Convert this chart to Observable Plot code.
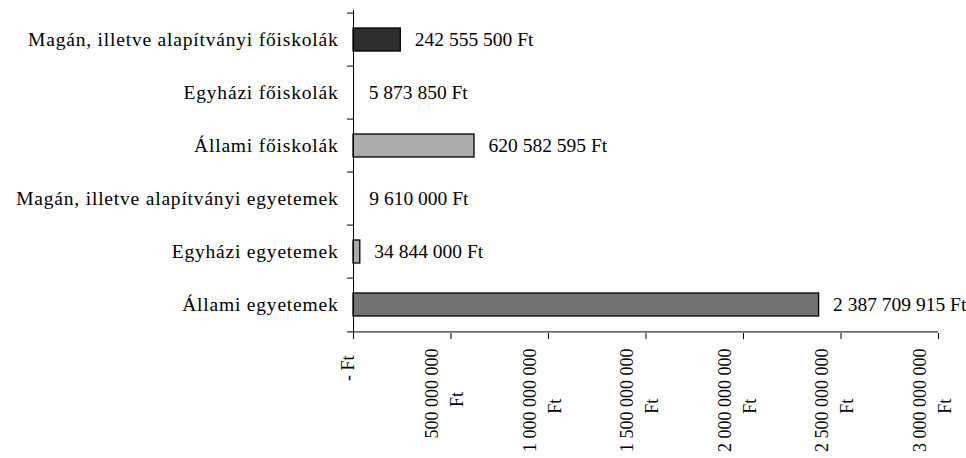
<!DOCTYPE html>
<html>
<head>
<meta charset="utf-8">
<script src="https://cdn.jsdelivr.net/npm/d3@7"></script>
<script src="https://cdn.jsdelivr.net/npm/@observablehq/plot@0.6"></script>
<style>
  body { margin: 0; background: #fff; }
  #chart svg g[aria-label="y-axis tick label"] text { letter-spacing: 0.8px; }
</style>
</head>
<body>
<div id="chart"></div>
<script>
// ---- data ----
const categories = [
  "Magán, illetve alapítványi főiskolák",
  "Egyházi főiskolák",
  "Állami főiskolák",
  "Magán, illetve alapítványi egyetemek",
  "Egyházi egyetemek",
  "Állami egyetemek"
];
const amounts = [242555500, 5873850, 620582595, 9610000, 34844000, 2387709915];
const xTicks = [0, 500000000, 1000000000, 1500000000, 2000000000, 2500000000, 3000000000];
const xTickNumbers = ["-", "500 000 000", "1 000 000 000", "1 500 000 000", "2 000 000 000", "2 500 000 000", "3 000 000 000"];
const currency = "Ft";
const barColors = ["#2e2e2e", "#ffffff", "#ababab", "#ffffff", "#ababab", "#737373"];
const barStrokes = ["black", "none", "black", "none", "black", "black"];

// ---- layout / style ----
const FONT = "Liberation Serif";
const FS = 19.5;
const TFS = 18;
const W = 966, H = 458;
const mTop = 10, mBottom = 125, mLeft = 353, mRight = 28;
const step = (H - mTop - mBottom) / categories.length;

const huf = d3.formatLocale({thousands: " ", grouping: [3], decimal: ",", currency: ["", ""]}).format(",d");
const data = categories.map((c, i) => ({category: c, amount: amounts[i], stroke: barStrokes[i], label: `${huf(amounts[i])} ${currency}`}));

const ctx = document.createElement("canvas").getContext("2d");
ctx.font = `${TFS}px "${FONT}"`;
const tw = s => ctx.measureText(s).width;

const tickLabelMarks = xTicks.flatMap((v, i) => {
  const num = xTickNumbers[i];
  if (num === "-") {
    const s = `${num} ${currency}`;
    return [Plot.text([v], {x: d => d, frameAnchor: "bottom", text: () => s, rotate: -90,
      textAnchor: "middle", dy: 14 + tw(s) / 2 + 8, fontSize: TFS})];
  }
  return [
    Plot.text([v], {x: d => d, frameAnchor: "bottom", text: () => num, rotate: -90,
      textAnchor: "end", dy: 15, dx: -13, fontSize: TFS}),
    Plot.text([v], {x: d => d, frameAnchor: "bottom", text: () => currency, rotate: -90,
      textAnchor: "middle", dy: 15 + tw(num) / 2 + 6, dx: 12, fontSize: TFS})
  ];
});

const chart = Plot.plot({
  width: W, height: H,
  marginTop: mTop, marginBottom: mBottom, marginLeft: mLeft, marginRight: mRight,
  x: {domain: [0, 3000000000]},
  y: {domain: categories, paddingInner: 0.573, paddingOuter: 0.2865},
  color: {domain: categories, range: barColors},
  style: {fontFamily: FONT, fontSize: `${FS}px`, color: "black", background: "white", overflow: "visible"},
  marks: [
    Plot.barX(data, {y: "category", x: "amount", fill: "category", stroke: d => d.stroke, strokeWidth: 1.3}),
    Plot.text(data, {y: "category", x: "amount", text: "label", textAnchor: "start", dx: 14, fontSize: FS}),
    Plot.axisY({tickSize: 0, tickPadding: 15, label: null, fontSize: FS}),
    Plot.axisY({tickSize: 6, fill: "none", label: null, dy: -step / 2}),
    Plot.axisY([categories[categories.length - 1]], {tickSize: 6, fill: "none", label: null, dy: step / 2}),
    Plot.ruleX([0], {stroke: "black"}),
    Plot.ruleY([categories[categories.length - 1]], {stroke: "black", dy: step / 2}),
    Plot.axisX({ticks: xTicks, tickSize: 6, fill: "none", label: null}),
    ...tickLabelMarks
  ]
});
document.getElementById("chart").append(chart);
</script>
</body>
</html>
